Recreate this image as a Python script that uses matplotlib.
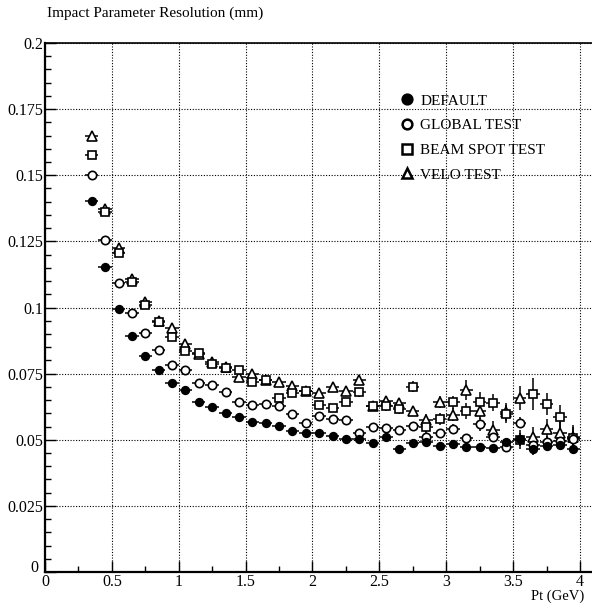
import matplotlib
matplotlib.use("Agg")
import matplotlib.pyplot as plt
from matplotlib.lines import Line2D
from matplotlib.ticker import MultipleLocator

plt.rcParams['font.family'] = ['Liberation Serif', 'DejaVu Serif']

# bin centres in Pt (GeV), bins of width 0.1
pt = [0.35, 0.45, 0.55, 0.65, 0.75, 0.85, 0.95, 1.05, 1.15, 1.25,
      1.35, 1.45, 1.55, 1.65, 1.75, 1.85, 1.95, 2.05, 2.15, 2.25,
      2.35, 2.45, 2.55, 2.65, 2.75, 2.85, 2.95, 3.05, 3.15, 3.25,
      3.35, 3.45, 3.55, 3.65, 3.75, 3.85, 3.95]

default = [0.1403, 0.1153, 0.0994, 0.0892, 0.0817, 0.0762, 0.0715, 0.0687, 0.0644, 0.0625,
           0.0602, 0.0586, 0.0567, 0.0563, 0.0552, 0.0533, 0.0526, 0.0526, 0.0514, 0.0503,
           0.0503, 0.0488, 0.0511, 0.0465, 0.0488, 0.0490, 0.0478, 0.0484, 0.0471, 0.0471,
           0.0468, 0.0493, 0.0502, 0.0464, 0.0476, 0.0480, 0.0464]
default_err = [0.0004, 0.0004, 0.0004, 0.0004, 0.0004, 0.0004, 0.0004, 0.0004, 0.0004, 0.0005,
               0.0005, 0.0005, 0.0005, 0.0005, 0.0006, 0.0006, 0.0006, 0.0006, 0.0007, 0.0007,
               0.0007, 0.0008, 0.0008, 0.0008, 0.0009, 0.0009, 0.0010, 0.0010, 0.0011, 0.0011,
               0.0012, 0.0013, 0.0025, 0.0020, 0.0014, 0.0015, 0.0016]

global_test = [0.1500, 0.1255, 0.1093, 0.0980, 0.0905, 0.0839, 0.0783, 0.0764, 0.0715, 0.0707,
               0.0679, 0.0644, 0.0630, 0.0635, 0.0628, 0.0597, 0.0563, 0.0590, 0.0578, 0.0575,
               0.0526, 0.0548, 0.0544, 0.0537, 0.0552, 0.0509, 0.0527, 0.0542, 0.0505, 0.0558,
               0.0509, 0.0474, 0.0565, 0.0480, 0.0490, 0.0495, 0.0502]
global_err = [0.0005, 0.0005, 0.0005, 0.0005, 0.0005, 0.0005, 0.0005, 0.0005, 0.0006, 0.0006,
              0.0006, 0.0007, 0.0007, 0.0008, 0.0008, 0.0008, 0.0009, 0.0009, 0.0010, 0.0010,
              0.0011, 0.0011, 0.0012, 0.0012, 0.0013, 0.0014, 0.0015, 0.0016, 0.0017, 0.0025,
              0.0019, 0.0020, 0.0022, 0.0023, 0.0024, 0.0026, 0.0028]

beam_spot = [0.1577, 0.1361, 0.1206, 0.1095, 0.1010, 0.0946, 0.0888, 0.0837, 0.0827, 0.0787,
             0.0770, 0.0764, 0.0719, 0.0726, 0.0659, 0.0678, 0.0684, 0.0631, 0.0619, 0.0642,
             0.0679, 0.0628, 0.0628, 0.0616, 0.0701, 0.0549, 0.0577, 0.0642, 0.0609, 0.0644,
             0.0640, 0.0596, 0.0500, 0.0673, 0.0635, 0.0585, 0.0505]
beam_err = [0.0006, 0.0006, 0.0006, 0.0006, 0.0006, 0.0006, 0.0006, 0.0007, 0.0007, 0.0008,
            0.0008, 0.0009, 0.0009, 0.0010, 0.0011, 0.0012, 0.0012, 0.0013, 0.0014, 0.0015,
            0.0016, 0.0017, 0.0018, 0.0019, 0.0020, 0.0022, 0.0023, 0.0025, 0.0030, 0.0035,
            0.0032, 0.0034, 0.0036, 0.0060, 0.0040, 0.0045, 0.0042]

velo = [0.1648, 0.1372, 0.1225, 0.1108, 0.1019, 0.0950, 0.0921, 0.0861, 0.0826, 0.0795,
        0.0776, 0.0737, 0.0750, 0.0726, 0.0720, 0.0703, 0.0686, 0.0678, 0.0698, 0.0686,
        0.0726, 0.0628, 0.0646, 0.0640, 0.0609, 0.0575, 0.0644, 0.0594, 0.0688, 0.0609,
        0.0537, 0.0606, 0.0657, 0.0512, 0.0539, 0.0524, 0.0512]
velo_err = [0.0006, 0.0006, 0.0006, 0.0006, 0.0006, 0.0006, 0.0006, 0.0007, 0.0007, 0.0008,
            0.0008, 0.0009, 0.0009, 0.0010, 0.0011, 0.0012, 0.0012, 0.0013, 0.0014, 0.0015,
            0.0016, 0.0017, 0.0018, 0.0019, 0.0020, 0.0022, 0.0023, 0.0025, 0.0038, 0.0030,
            0.0032, 0.0034, 0.0045, 0.0038, 0.0040, 0.0042, 0.0044]

labels = ["DEFAULT", "GLOBAL TEST", "BEAM SPOT TEST", "VELO TEST"]

fig = plt.figure(figsize=(5.92, 6.03), dpi=100)
ax = fig.add_axes([45/592, 31/603, 547/592, 529/603])

series = [
    (velo, velo_err, '^', 'white', 6.5),
    (beam_spot, beam_err, 's', 'white', 6.0),
    (global_test, global_err, 'o', 'white', 6.0),
    (default, default_err, 'o', 'black', 5.5),
]
for y, e, m, fc, ms in series:
    ax.errorbar(pt, y, yerr=e, xerr=0.05, fmt=m, mfc=fc, mec='black', mew=1.2,
                ms=ms, ecolor='black', elinewidth=1.1, capsize=0, zorder=3)

ax.set_xlim(0, 4.09)
ax.set_ylim(0, 0.2)
ax.xaxis.set_major_locator(MultipleLocator(0.5))
ax.xaxis.set_minor_locator(MultipleLocator(0.25))
ax.yaxis.set_major_locator(MultipleLocator(0.025))
ax.yaxis.set_minor_locator(MultipleLocator(0.005))
ax.xaxis.set_major_formatter(plt.FuncFormatter(lambda v, p: f"{v:g}"))
# y "0" is drawn separately, nudged up-left like ROOT does at the origin
ax.yaxis.set_major_formatter(plt.FuncFormatter(lambda v, p: "" if abs(v) < 1e-9 else f"{v:g}"))
ax.tick_params(which='both', direction='in', top=False, right=False, labelsize=11.5, width=1.0)
ax.tick_params(which='major', length=8, pad=1.5)
ax.tick_params(which='minor', length=4)
ax.grid(True, which='major', color='black', linestyle=(0, (1, 1.5)), linewidth=0.8)
for s in ['left', 'bottom']:
    ax.spines[s].set_linewidth(1.6)
ax.spines['top'].set_linewidth(1.2)
ax.spines['right'].set_visible(False)

ax.annotate("0", xy=(0, 0), xycoords='axes fraction', xytext=(-5, 3),
            textcoords='offset points', ha='right', va='center', fontsize=11.5)

markers = [('o', 'black'), ('o', 'white'), ('s', 'white'), ('^', 'white')]
handles = [Line2D([], [], linestyle='none', marker=m, mfc=fc, mec='black', mew=1.8, ms=7)
           for m, fc in markers]
ax.legend(handles, labels, loc='upper left', bbox_to_anchor=(0.637, 0.918), frameon=False,
          fontsize=11, handlelength=0.8, handletextpad=0.45, labelspacing=0.72, borderpad=0)

fig.text(47/592, 1 - 13/603, "Impact Parameter Resolution (mm)", fontsize=11, va='center', ha='left')
fig.text(584/592, 1 - 596/603, "Pt (GeV)", fontsize=10.5, va='center', ha='right')

fig.savefig("out.png", dpi=100)
